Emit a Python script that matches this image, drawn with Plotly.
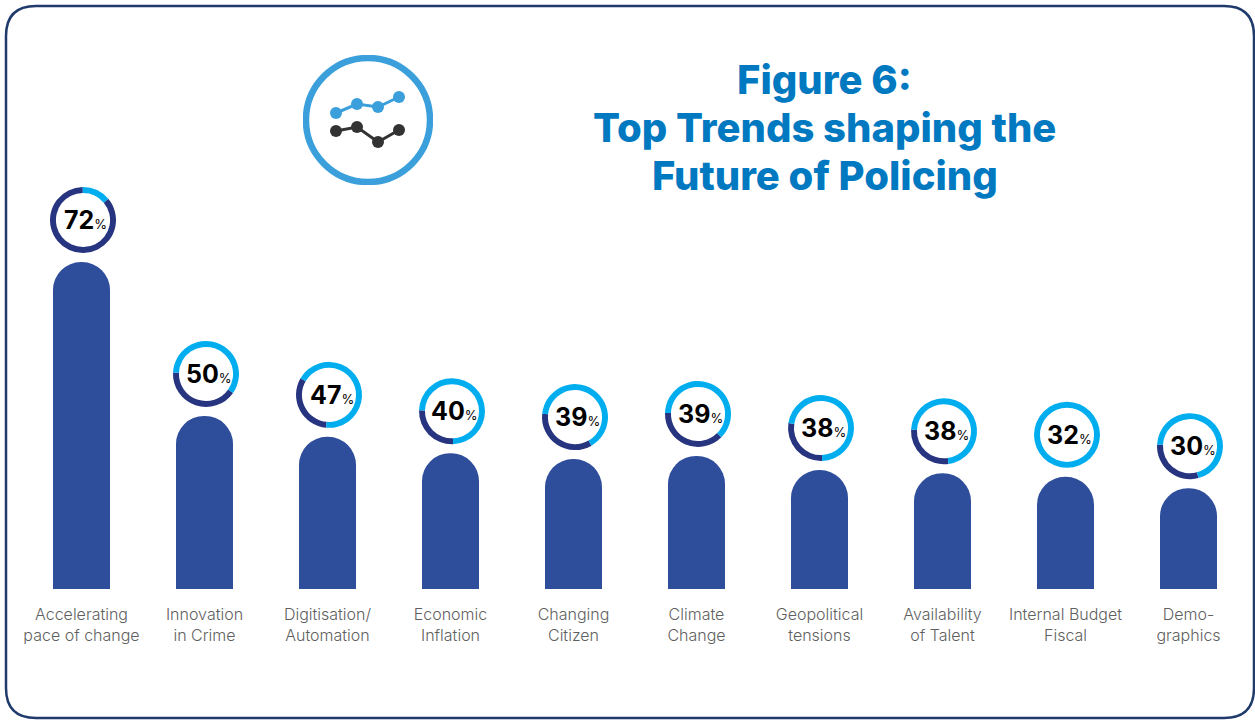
import plotly.graph_objects as go

# ---- data ----
trend_labels = ["Accelerating<br>pace of change", "Innovation<br>in Crime", "Digitisation/<br>Automation",
                "Economic<br>Inflation", "Changing<br>Citizen", "Climate<br>Change", "Geopolitical<br>tensions",
                "Availability<br>of Talent", "Internal Budget<br>Fiscal", "Demo-<br>graphics"]
percent_labels = [72, 50, 47, 40, 39, 39, 38, 38, 32, 30]
# drawn bar heights are not proportional to the printed percentage
bar_heights = [72.0, 38.1, 33.5, 29.9, 28.6, 29.3, 26.2, 25.5, 24.7, 22.2]
# dark arc of each ring: share of circumference (%) and clockwise start angle (deg)
ring_dark_share = [86, 41, 32, 26, 35, 38, 28, 28, 0, 30]
ring_dark_start = [50, 125, 185, 178, 150, 135, 178, 172, 0, 165]
title_lines = ["Figure 6:", "Top Trends shaping the", "Future of Policing"]
icon_x = [1, 2, 3, 4]
icon_upper = [72, 81, 78, 88]
icon_lower = [54, 58, 43, 55]

# ---- layout constants ----
W, H = 1255, 720
LEFT, RIGHT_EDGE, BASE = 20, 1250, 589
PW, PH = RIGHT_EDGE - LEFT, BASE
Y_MAX = 129.7
STEP = PW / len(trend_labels)
RING_R, RING_GAP = 33, 42
BAR, BORDER, LIGHT, DARK = "#2E4D9B", "#1F3A6B", "#00AEEF", "#27347F"
TITLE_C, LABEL_C, ICON_B, ICON_D = "#0079C1", "#5F5F5F", "#3A9FDB", "#333333"

def fx(px): return (px - LEFT) / PW
def fy(px): return (BASE - px) / PH

fig = go.Figure()
fig.add_trace(go.Bar(x=list(range(10)), y=bar_heights, marker=dict(color=BAR, line_width=0, cornerradius=28),
                     width=0.4634, hoverinfo="skip", showlegend=False))

for i, (share, start) in enumerate(zip(ring_dark_share, ring_dark_start)):
    cx = LEFT + STEP * (i + 0.5) + 1.5
    cy = BASE - bar_heights[i] * PH / Y_MAX - RING_GAP
    fig.add_trace(go.Pie(values=[share, 100 - share], rotation=start, sort=False, direction="clockwise",
                         hole=0.82, textinfo="none", hoverinfo="skip", showlegend=False,
                         marker=dict(colors=[DARK, LIGHT], line_width=0),
                         domain=dict(x=[fx(cx - RING_R), fx(cx + RING_R)], y=[fy(cy + RING_R), fy(cy - RING_R)])))

fig.add_trace(go.Scatter(x=icon_x, y=icon_upper, xaxis="x2", yaxis="y2", mode="lines+markers",
                         line=dict(color=ICON_B, width=3), marker=dict(color=ICON_B, size=12),
                         hoverinfo="skip", showlegend=False))
fig.add_trace(go.Scatter(x=icon_x, y=icon_lower, xaxis="x2", yaxis="y2", mode="lines+markers",
                         line=dict(color=ICON_D, width=3), marker=dict(color=ICON_D, size=12),
                         hoverinfo="skip", showlegend=False))

ann = []
for i, p in enumerate(percent_labels):
    ann.append(dict(x=i, y=bar_heights[i], xref="x", yref="y", yshift=RING_GAP, xshift=4, showarrow=False,
                    text=f"<b>{p}</b><span style='font-size:13px'>%</span>",
                    font=dict(family="Inter", size=25, color="#000000")))
for line, py in zip(title_lines, [79, 127, 175]):
    ann.append(dict(x=fx(825), y=fy(py), xref="paper", yref="paper", showarrow=False, text=line,
                    xanchor="center", yanchor="middle",
                    font=dict(family="Inter", size=40, weight=800, color=TITLE_C)))

r = 30
x0, x1, y0, y1 = 6, 1254, 6, 718
frame = (f"M {fx(x0+r)},{fy(y0)} L {fx(x1-r)},{fy(y0)} Q {fx(x1)},{fy(y0)} {fx(x1)},{fy(y0+r)} "
         f"L {fx(x1)},{fy(y1-r)} Q {fx(x1)},{fy(y1)} {fx(x1-r)},{fy(y1)} "
         f"L {fx(x0+r)},{fy(y1)} Q {fx(x0)},{fy(y1)} {fx(x0)},{fy(y1-r)} "
         f"L {fx(x0)},{fy(y0+r)} Q {fx(x0)},{fy(y0)} {fx(x0+r)},{fy(y0)} Z")

shapes = [
    dict(type="path", path=frame, xref="paper", yref="paper", line=dict(color=BORDER, width=2.5), layer="below"),
    dict(type="circle", xref="x2", yref="y2", x0=-0.43, x1=5.476, y0=3, y1=127,
         line=dict(color=ICON_B, width=6.5), layer="below"),
]

fig.update_layout(
    width=W, height=H, autosize=False, paper_bgcolor="white", plot_bgcolor="rgba(0,0,0,0)",
    margin=dict(l=LEFT, r=W - RIGHT_EDGE, t=0, b=H - BASE, pad=0),
    xaxis=dict(range=[-0.5, 9.5], tickmode="array", tickvals=list(range(10)), ticktext=trend_labels,
               showgrid=False, zeroline=False, showline=False, ticks="", ticklabelstandoff=14,
               tickfont=dict(family="Inter", size=16, weight=300, color=LABEL_C), tickangle=0, fixedrange=True),
    yaxis=dict(range=[0, Y_MAX], visible=False, fixedrange=True),
    xaxis2=dict(domain=[fx(303), fx(433)], range=[-0.571, 5.619], visible=False, anchor="y2", fixedrange=True),
    yaxis2=dict(domain=[fy(185), fy(55)], range=[0, 130], visible=False, anchor="x2", fixedrange=True),
    annotations=ann, shapes=shapes,
)

fig.write_html("out.html", post_script="document.body.style.margin='0';",
               config=dict(displayModeBar=False))
